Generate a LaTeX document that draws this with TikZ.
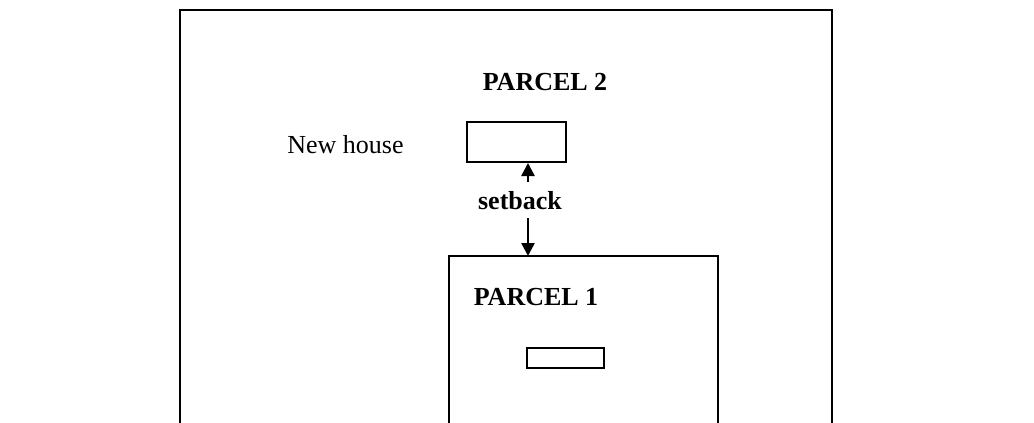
\documentclass[tikz,border=0pt]{standalone}
\usepackage{fontspec}
\setmainfont{Liberation Serif}
\usetikzlibrary{positioning, arrows.meta, calc}
\tikzset{
    lotline/.style={line width=2pt, color=black},
    housebox/.style={rectangle, draw=black, line width=2pt, inner sep=0pt},
    parcellbl/.style={font=\fontsize{26}{30}\selectfont\bfseries},
    plainlbl/.style={font=\fontsize{26}{30}\selectfont},
    setarr/.style={-{Triangle[length=13pt, width=13pt]}, line width=2.5pt}
}
\begin{document}
\begin{tikzpicture}[x=1pt, y=-1pt]
    \useasboundingbox (0,0) rectangle (1034,423);
    % parcel 2 (outer lot, runs off the bottom)
    \draw[lotline] (180,440) -- (180,10) -- (832,10) -- (832,440);
    \node[parcellbl] (p2lbl) at (545,82) {PARCEL 2};
    \node[plainlbl] (nhlbl) at (345.5,145) {New house};
    \node[housebox, minimum width=99pt, minimum height=40pt] (newhouse) at (516.5,142) {};
    % parcel 1
    \coordinate (p1top) at (449,256);
    \draw[lotline] (449,440) -- (p1top) -- (718,256) -- (718,440);
    \node[parcellbl] (p1lbl) at (536,297) {PARCEL 1};
    \node[housebox, minimum width=77pt, minimum height=20pt] (oldhouse) at (565.5,358) {};
    % setback
    \node[parcellbl] (setback) at (520,201) {setback};
    \coordinate (uptail) at (528,182);
    \coordinate (dntail) at (528,218);
    \draw[setarr] (uptail) -- (uptail |- newhouse.south);
    \draw[setarr] (dntail) -- (dntail |- p1top);
\end{tikzpicture}
\end{document}
